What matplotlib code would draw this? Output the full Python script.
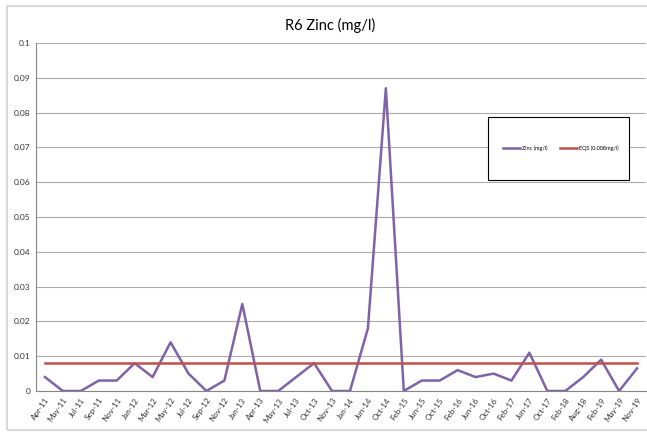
import numpy as np
import matplotlib
matplotlib.use('Agg')
import matplotlib.pyplot as plt
from matplotlib.patches import Rectangle

plt.rcParams['font.family'] = ['Liberation Sans Narrow', 'Lato', 'DejaVu Sans']

# Даты отбора проб
dates = ['Apr-11', 'May-11', 'Jul-11', 'Sep-11', 'Nov-11', 'Jan-12', 'Mar-12', 'May-12',
         'Jul-12', 'Sep-12', 'Nov-12', 'Jan-13', 'Apr-13', 'May-13', 'Jul-13', 'Oct-13',
         'Nov-13', 'Jan-14', 'Jun-14', 'Oct-14', 'Feb-15', 'Jun-15', 'Oct-15', 'Feb-16',
         'Jun-16', 'Oct-16', 'Feb-17', 'Jun-17', 'Oct-17', 'Feb-18', 'Aug-18', 'Feb-19',
         'May-19', 'Nov-19']

# Цинк, мг/л
zinc = [0.004, 0.0, 0.0, 0.003, 0.003, 0.008, 0.004, 0.014,
        0.005, 0.0, 0.003, 0.025, 0.0, 0.0, 0.004, 0.008,
        0.0, 0.0, 0.018, 0.087, 0.0, 0.003, 0.003, 0.006,
        0.004, 0.005, 0.003, 0.011, 0.0, 0.0, 0.004, 0.009,
        0.0, 0.0065]

eqs = 0.008
yticks = [0, 0.01, 0.02, 0.03, 0.04, 0.05, 0.06, 0.07, 0.08, 0.09, 0.1]
ytick_labels = ['0', '0.01', '0.02', '0.03', '0.04', '0.05', '0.06', '0.07', '0.08', '0.09', '0.1']

W, H = 647, 432
fig = plt.figure(figsize=(W / 100, H / 100), dpi=100)
ax = fig.add_axes([36 / W, 1 - 391 / H, 610 / W, 348 / H])

x = np.arange(len(dates))
ax.plot(x, zinc, color='#7F62A8', lw=1.8, label='Zinc (mg/l)', zorder=3)
ax.plot(x, [eqs] * len(dates), color='#C0504D', lw=1.8, label='EQS (0.008mg/l)', zorder=3)

ax.set_xlim(-0.5, len(dates) - 0.5)
ax.set_ylim(0, 0.1)
ax.set_yticks(yticks)
ax.set_yticklabels(ytick_labels, fontsize=6)
ax.set_xticks(x)
ax.set_xticklabels(dates, fontsize=5.8, rotation=55, ha='right', rotation_mode='anchor')
ax.tick_params(axis='both', length=0, pad=4, colors='#333333')
ax.grid(axis='y', color='#ABABAB', lw=0.8)
ax.set_axisbelow(True)

for side in ['top', 'right']:
    ax.spines[side].set_visible(False)
ax.spines['left'].set_color('#868686')
ax.spines['bottom'].set_color('#868686')
ax.spines['left'].set_linewidth(0.8)
ax.spines['bottom'].set_linewidth(0.8)

fig.text(330 / W, 1 - 25 / H, 'R6 Zinc (mg/l)', ha='center', va='center', fontsize=10.5)

# рамка легенды
box = Rectangle((488 / W, 1 - 180 / H), 141 / W, 63 / H, transform=fig.transFigure,
                facecolor='white', edgecolor='black', lw=0.8, zorder=4, clip_on=False)
ax.add_patch(box)
ax.legend(loc='center', bbox_to_anchor=(561 / W, 1 - 148 / H), bbox_transform=fig.transFigure,
          ncol=2, frameon=False, fontsize=4, handlelength=3.0, columnspacing=2.3, handletextpad=0.4)

# рамка диаграммы
border = Rectangle((7 / W, 1 - 430 / H), 660 / W, 424 / H, transform=fig.transFigure,
                   facecolor='none', edgecolor='#D9D9D9', lw=1.5)
fig.patches.append(border)

fig.savefig('out.png', dpi=100)
